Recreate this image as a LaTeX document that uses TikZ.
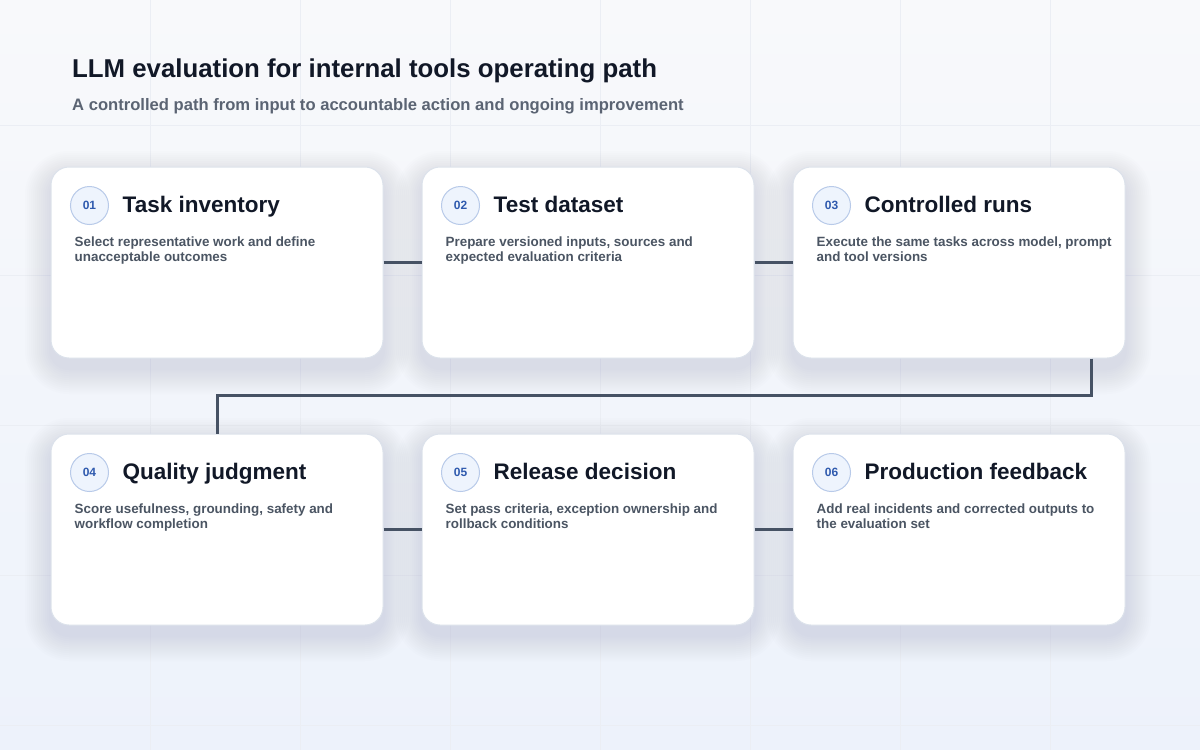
\documentclass[tikz,border=0pt]{standalone}
\usepackage{fontspec}
\setmainfont{Liberation Sans}
\definecolor{bgA}{HTML}{F8F9FB}
\definecolor{bgB}{HTML}{EDF2FB}
\definecolor{gridc}{HTML}{EBEEF4}
\definecolor{cardborder}{HTML}{DCE2EB}
\definecolor{titlec}{HTML}{111827}
\definecolor{subc}{HTML}{5B6473}
\definecolor{descc}{HTML}{4B5563}
\definecolor{badgefill}{HTML}{EEF4FD}
\definecolor{badgeline}{HTML}{B8CAE9}
\definecolor{badgetext}{HTML}{2F5AAE}
\definecolor{linkc}{HTML}{465264}
\definecolor{shadowc}{HTML}{7C8AAE}
\tikzset{
  card/.style={draw=cardborder, line width=1pt, fill=white, rounded corners=18pt,
    minimum width=332pt, minimum height=191pt, inner sep=0pt},
  badge/.style={circle, draw=badgeline, line width=1pt, fill=badgefill, minimum size=38pt,
    inner sep=0pt, text=badgetext, font=\bfseries\fontsize{12}{14}\selectfont},
  cardtitle/.style={anchor=base west, inner sep=0pt, text=titlec, font=\bfseries\fontsize{22.5}{26}\selectfont},
  carddesc/.style={anchor=north west, inner sep=0pt, text=descc, align=left,
    font=\bfseries\fontsize{13.4}{15}\selectfont},
  link/.style={draw=linkc, line width=3pt},
  softshadow/.style={fill=shadowc, fill opacity=0.014, draw=none}
}
\begin{document}
\begin{tikzpicture}[x=1pt,y=-1pt]
\useasboundingbox (0,0) rectangle (1200,750);
\shade[top color=bgA, bottom color=bgB] (0,0) rectangle (1200,750);
\foreach \gx in {150,300,...,1050} \draw[gridc, line width=0.8pt] (\gx,0) -- (\gx,750);
\foreach \gy in {125,275,...,725} \draw[gridc, line width=0.8pt] (0,\gy) -- (1200,\gy);

\node[anchor=base west, inner sep=0pt, text=titlec, font=\bfseries\fontsize{25.8}{30}\selectfont] (title) at (72,77)
  {LLM evaluation for internal tools operating path};
\node[anchor=base west, inner sep=0pt, text=subc, font=\bfseries\fontsize{16.6}{20}\selectfont] (subtitle) at (72,110)
  {A controlled path from input to accountable action and ongoing improvement};

\coordinate (r1y) at (0,262);
\coordinate (r2y) at (0,529);

% soft shadows under the cards
\foreach \cx/\cy in {217/262.5,588/262.5,959/262.5,217/529.5,588/529.5,959/529.5}{
  \foreach \s in {2,4,...,26}{
    \fill[softshadow, rounded corners=18pt+\s pt]
      (\cx-166-\s, \cy-95.5-\s+10) rectangle (\cx+166+\s, \cy+95.5+\s+10);
  }
}

\foreach \n/\cx/\cy/\num/\ttl/\da/\db in {
  c1/217/262.5/01/{Task inventory}/{Select representative work and define}/{unacceptable outcomes},
  c2/588/262.5/02/{Test dataset}/{Prepare versioned inputs, sources and}/{expected evaluation criteria},
  c3/959/262.5/03/{Controlled runs}/{Execute the same tasks across model, prompt}/{and tool versions},
  c4/217/529.5/04/{Quality judgment}/{Score usefulness, grounding, safety and}/{workflow completion},
  c5/588/529.5/05/{Release decision}/{Set pass criteria, exception ownership and}/{rollback conditions},
  c6/959/529.5/06/{Production feedback}/{Add real incidents and corrected outputs to}/{the evaluation set}}{
  \node[card] (\n) at (\cx,\cy) {};
  \node[badge] (\n-b) at ([xshift=39pt,yshift=-39pt]\n.north west) {\num};
  \node[cardtitle] (\n-t) at ([xshift=72pt,yshift=-46pt]\n.north west) {\ttl};
  \node[carddesc] (\n-d) at ([xshift=24pt,yshift=-70pt]\n.north west) {\da\\\db};
}

\draw[link] (c1.east |- r1y) -- (c2.west |- r1y);
\draw[link] (c2.east |- r1y) -- (c3.west |- r1y);
\coordinate (turn) at ([xshift=-34pt]c3.south east);
\draw[link] (turn) -- ++(0,37) -| (c4.north);
\draw[link] (c4.east |- r2y) -- (c5.west |- r2y);
\draw[link] (c5.east |- r2y) -- (c6.west |- r2y);
\end{tikzpicture}
\end{document}
